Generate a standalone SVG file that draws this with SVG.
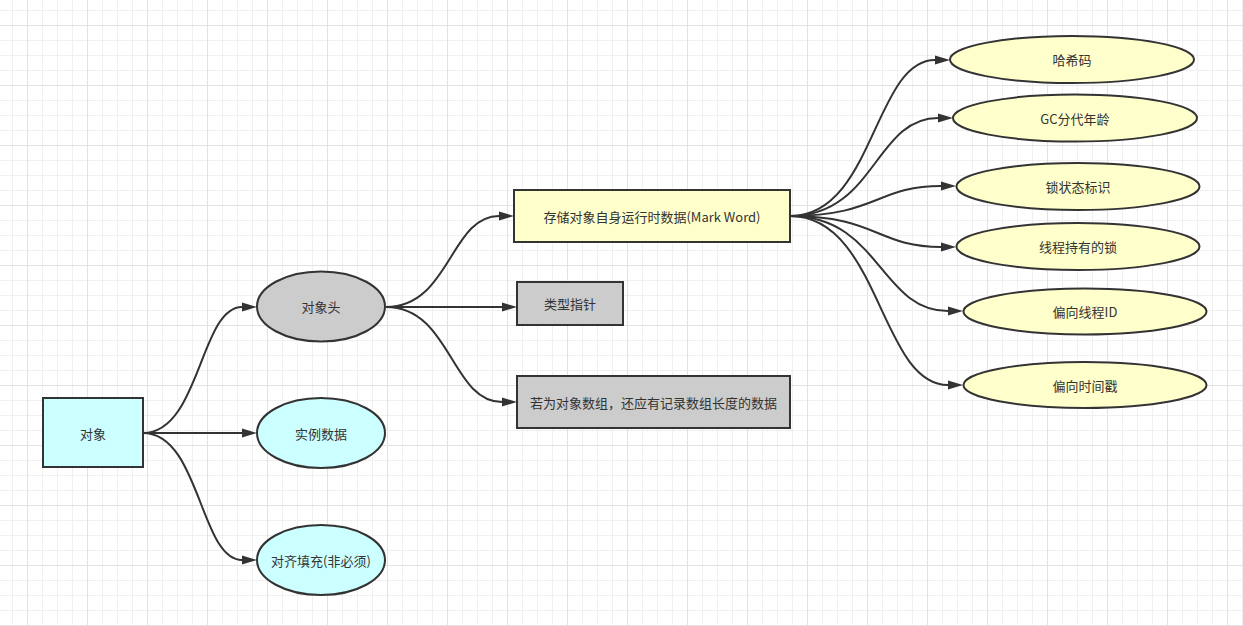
<svg xmlns="http://www.w3.org/2000/svg" width="1243" height="626" viewBox="0 0 1243 626">
  <style>
    .box { stroke: #333333; stroke-width: 2; }
    .cyan { fill: #ccffff; }
    .gray { fill: #cccccc; }
    .yellow { fill: #ffffcc; }
    .lbl { font-family: "Noto Sans CJK SC", "Microsoft YaHei", sans-serif; font-size: 13px; fill: #333333; text-anchor: middle; dominant-baseline: central; }
    .edge { fill: none; stroke: #333333; stroke-width: 2; marker-end: url(#arrow); }
  </style>
  <defs>
    <pattern id="grid" x="27" y="25" width="60" height="60" patternUnits="userSpaceOnUse">
      <rect x="0" y="0" width="60" height="60" fill="#ffffff"/>
      <rect x="15" y="0" width="1" height="60" fill="#f0f0f0"/>
      <rect x="30" y="0" width="1" height="60" fill="#f0f0f0"/>
      <rect x="45" y="0" width="1" height="60" fill="#f0f0f0"/>
      <rect x="0" y="15" width="60" height="1" fill="#f0f0f0"/>
      <rect x="0" y="30" width="60" height="1" fill="#f0f0f0"/>
      <rect x="0" y="45" width="60" height="1" fill="#f0f0f0"/>
      <rect x="0" y="0" width="1" height="60" fill="#e2e2e2"/>
      <rect x="0" y="0" width="60" height="1" fill="#e2e2e2"/>
    </pattern>
    <marker id="arrow" markerUnits="userSpaceOnUse" markerWidth="16" markerHeight="10" refX="0" refY="4.5" orient="auto" overflow="visible">
      <path d="M0,0 L15,4.5 L0,9 Z" fill="#333333"/>
    </marker>
  </defs>
  <rect x="0" y="0" width="1243" height="626" fill="url(#grid)"/>

  <g id="connectors">
    <path class="edge" d="M143,433 C200,433 200,307 242,307"/>
    <path class="edge" d="M143,433 L242,433"/>
    <path class="edge" d="M143,433 C200,433 200,560 242,560"/>
    <path class="edge" d="M386,307 C450,307 450,216 499,216"/>
    <path class="edge" d="M386,307 L502,307"/>
    <path class="edge" d="M386,307 C451,307 451,402 502,402"/>
    <path class="edge" d="M790,216 C874,216 874,60 935,60"/>
    <path class="edge" d="M790,216 C875,216 875,118 938,118"/>
    <path class="edge" d="M790,216 C877,216 877,186 941,186"/>
    <path class="edge" d="M790,216 C877,216 877,247 941,247"/>
    <path class="edge" d="M790,216 C880,216 880,311 948,311"/>
    <path class="edge" d="M790,216 C880,216 880,385 948,385"/>
  </g>

  <g id="node-object">
    <rect class="box cyan" x="43" y="398" width="100" height="69"/>
    <text class="lbl" x="93" y="433">对象</text>
  </g>
  <g id="node-header">
    <ellipse class="box gray" cx="321" cy="306.5" rx="64" ry="35"/>
    <text class="lbl" x="321" y="306.5">对象头</text>
  </g>
  <g id="node-instance">
    <ellipse class="box cyan" cx="321" cy="433" rx="64" ry="35"/>
    <text class="lbl" x="321" y="433">实例数据</text>
  </g>
  <g id="node-padding">
    <ellipse class="box cyan" cx="321" cy="560" rx="64" ry="35"/>
    <text class="lbl" x="321" y="560">对齐填充(非必须)</text>
  </g>
  <g id="node-markword">
    <rect class="box yellow" x="514" y="190" width="276" height="52"/>
    <text class="lbl" x="652" y="216">存储对象自身运行时数据(Mark Word)</text>
  </g>
  <g id="node-klass">
    <rect class="box gray" x="517" y="282" width="106" height="43"/>
    <text class="lbl" x="570" y="303.5">类型指针</text>
  </g>
  <g id="node-array">
    <rect class="box gray" x="517" y="376" width="273" height="52"/>
    <text class="lbl" x="653.5" y="402">若为对象数组，还应有记录数组长度的数据</text>
  </g>
  <g id="node-hash">
    <ellipse class="box yellow" cx="1072" cy="59.5" rx="122" ry="23.5"/>
    <text class="lbl" x="1072" y="59.5">哈希码</text>
  </g>
  <g id="node-gc">
    <ellipse class="box yellow" cx="1075" cy="118" rx="122" ry="23.5"/>
    <text class="lbl" x="1075" y="118">GC分代年龄</text>
  </g>
  <g id="node-lockstate">
    <ellipse class="box yellow" cx="1078" cy="186.5" rx="121.5" ry="23.5"/>
    <text class="lbl" x="1078" y="186.5">锁状态标识</text>
  </g>
  <g id="node-threadlock">
    <ellipse class="box yellow" cx="1078" cy="246.5" rx="121.5" ry="23.5"/>
    <text class="lbl" x="1078" y="246.5">线程持有的锁</text>
  </g>
  <g id="node-biasid">
    <ellipse class="box yellow" cx="1085" cy="311.5" rx="121.5" ry="23"/>
    <text class="lbl" x="1085" y="311.5">偏向线程ID</text>
  </g>
  <g id="node-biastime">
    <ellipse class="box yellow" cx="1085" cy="385" rx="121.5" ry="23"/>
    <text class="lbl" x="1085" y="385">偏向时间戳</text>
  </g>
</svg>
